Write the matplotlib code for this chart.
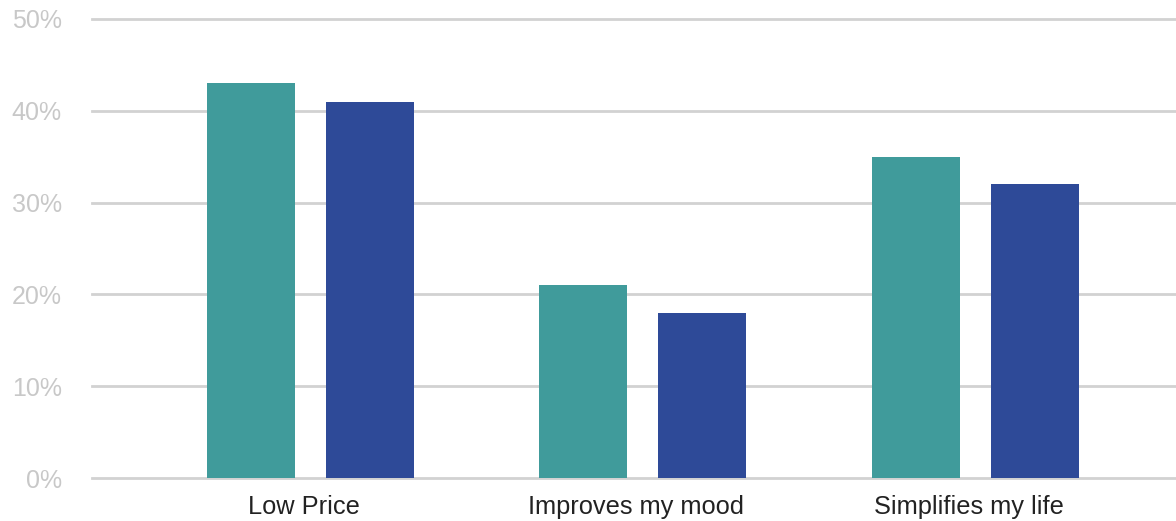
import matplotlib
matplotlib.use("Agg")
import matplotlib.pyplot as plt
import matplotlib.transforms as mtransforms
import numpy as np

plt.rcParams['font.family'] = ['Liberation Sans', 'DejaVu Sans']

categories = ["Low Price", "Improves my mood", "Simplifies my life"]
series_a = [43, 21, 35]
series_b = [41, 18, 32]
y_ticks = [0, 10, 20, 30, 40, 50]
y_tick_labels = ["0%", "10%", "20%", "30%", "40%", "50%"]

W, H = 1176, 521
fig = plt.figure(figsize=(W / 100, H / 100), dpi=100)
ax = fig.add_axes([92 / W, 43 / H, 1 - 92 / W, (478 - 19) / H])

x = np.arange(len(categories))
bw = 88 / 332.5
off = 59.5 / 332.5
ax.bar(x - off, series_a, width=bw, color="#409b9b", zorder=3)
ax.bar(x + off, series_b, width=bw, color="#2e4a98", zorder=3)

ax.set_xlim((92 - 310) / 332.5, (1176 - 310) / 332.5)
ax.set_ylim(0, 50)
ax.set_yticks(y_ticks)
ax.set_yticklabels(y_tick_labels, color="#c8c8c8", fontsize=18)
ax.set_xticks(x)
ax.set_xticklabels(categories, color="#222222", fontsize=18.3)
ax.tick_params(axis="both", length=0)
ax.tick_params(axis="y", pad=21.6)
ax.tick_params(axis="x", pad=12.5)

# category labels sit slightly left of their group centres
shift = mtransforms.ScaledTranslation(-6 / 100, 0, fig.dpi_scale_trans)
for lbl in ax.get_xticklabels():
    lbl.set_transform(lbl.get_transform() + shift)

for v in y_ticks:
    ax.axhline(v, color="#d2d2d2", linewidth=2, zorder=1, clip_on=False)
for s in ax.spines.values():
    s.set_visible(False)

fig.savefig("out.png", dpi=100)
